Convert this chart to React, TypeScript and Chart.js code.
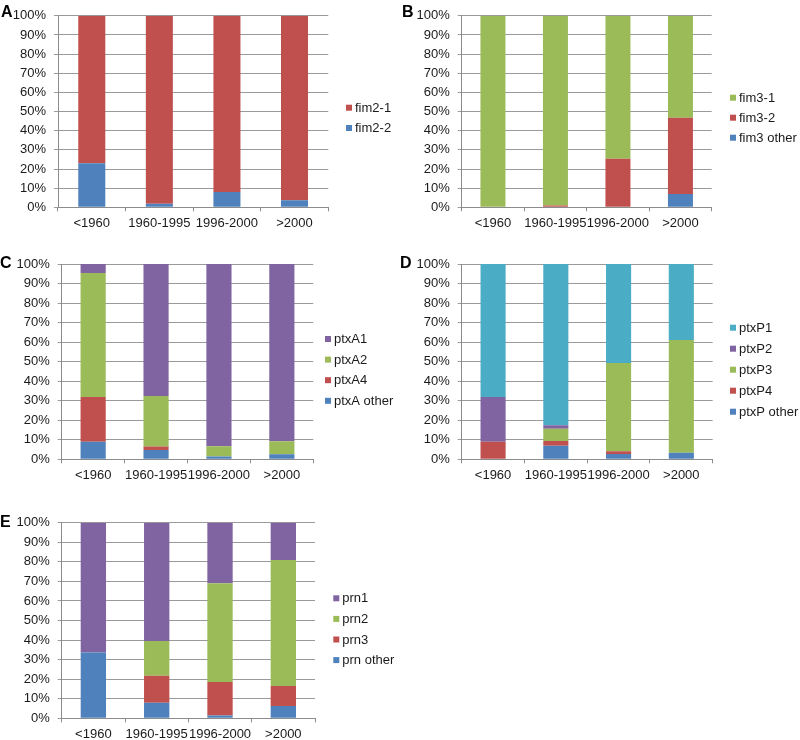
import React, { useEffect, useRef } from "react";
import { Chart, registerables } from "chart.js";

Chart.register(...registerables);

const categories = ["<1960", "1960-1995", "1996-2000", ">2000"];

// Panel A (bottom to top)
const fim2_2 = [23.0, 1.9, 8.0, 3.7];
const fim2_1 = [77.0, 98.1, 92.0, 96.3];

// Panel B
const fim3_other = [0, 0, 0, 7.0];
const fim3_2 = [0, 0.9, 25.4, 39.7];
const fim3_1 = [100, 99.1, 74.6, 53.3];

// Panel C
const ptxA_other = [9.0, 4.8, 1.4, 2.6];
const ptxA4 = [22.9, 1.7, 0, 0];
const ptxA2 = [63.5, 25.9, 5.3, 6.6];
const ptxA1 = [4.6, 67.6, 93.3, 90.8];

// Panel D
const ptxP_other = [0, 7.0, 2.7, 3.4];
const ptxP4 = [9.0, 2.4, 1.4, 0];
const ptxP3 = [0, 6.3, 45.2, 57.7];
const ptxP2 = [22.9, 1.7, 0, 0];
const ptxP1 = [68.1, 82.6, 50.7, 38.9];

// Panel E
const prn_other = [33.6, 8.0, 1.4, 6.3];
const prn3 = [0, 13.8, 17.2, 10.2];
const prn2 = [0, 17.7, 50.4, 64.4];
const prn1 = [66.4, 60.5, 31.0, 19.1];

const yTicks = [0, 10, 20, 30, 40, 50, 60, 70, 80, 90, 100];

const BLUE = "#4F81BD";
const RED = "#C0504D";
const GREEN = "#9BBB59";
const PURPLE = "#8064A2";
const AQUA = "#4BACC6";

const FONT = "'Liberation Sans', Arial, sans-serif";
const FS = 13;

type DS = { label: string; data: number[]; color: string };

type PanelCfg = {
  letter: string;
  left: number;
  top: number;
  w: number;
  h: number;
  area: { l: number; r: number; t: number; b: number };
  legend: { x: number; y: number; gap: number };
  letterPos: { x: number; y: number };
  series: DS[];
};

const panels: PanelCfg[] = [
  {
    letter: "A",
    left: 0, top: 0, w: 400, h: 240,
    area: { l: 58, r: 328.3, t: 11.7, b: 207.3 },
    legend: { x: 346, y: 107.7, gap: 20.3 },
    letterPos: { x: 1, y: 4 },
    series: [
      { label: "fim2-2", data: fim2_2, color: BLUE },
      { label: "fim2-1", data: fim2_1, color: RED },
    ],
  },
  {
    letter: "B",
    left: 400, top: 0, w: 400, h: 240,
    area: { l: 61.7, r: 311.7, t: 11.7, b: 207.3 },
    legend: { x: 330, y: 97.7, gap: 20 },
    letterPos: { x: 2, y: 4 },
    series: [
      { label: "fim3 other", data: fim3_other, color: BLUE },
      { label: "fim3-2", data: fim3_2, color: RED },
      { label: "fim3-1", data: fim3_1, color: GREEN },
    ],
  },
  {
    letter: "C",
    left: 0, top: 240, w: 400, h: 250,
    area: { l: 61.7, r: 313.3, t: 24, b: 219.3 },
    legend: { x: 325, y: 99, gap: 20.6 },
    letterPos: { x: 0, y: 15 },
    series: [
      { label: "ptxA other", data: ptxA_other, color: BLUE },
      { label: "ptxA4", data: ptxA4, color: RED },
      { label: "ptxA2", data: ptxA2, color: GREEN },
      { label: "ptxA1", data: ptxA1, color: PURPLE },
    ],
  },
  {
    letter: "D",
    left: 400, top: 240, w: 400, h: 250,
    area: { l: 61.7, r: 312.7, t: 24, b: 219.3 },
    legend: { x: 330, y: 87.7, gap: 21 },
    letterPos: { x: 0, y: 15 },
    series: [
      { label: "ptxP other", data: ptxP_other, color: BLUE },
      { label: "ptxP4", data: ptxP4, color: RED },
      { label: "ptxP3", data: ptxP3, color: GREEN },
      { label: "ptxP2", data: ptxP2, color: PURPLE },
      { label: "ptxP1", data: ptxP1, color: AQUA },
    ],
  },
  {
    letter: "E",
    left: 0, top: 490, w: 400, h: 250,
    area: { l: 61.7, r: 315, t: 32.7, b: 228.3 },
    legend: { x: 333.3, y: 108.3, gap: 20.6 },
    letterPos: { x: 0, y: 24 },
    series: [
      { label: "prn other", data: prn_other, color: BLUE },
      { label: "prn3", data: prn3, color: RED },
      { label: "prn2", data: prn2, color: GREEN },
      { label: "prn1", data: prn1, color: PURPLE },
    ],
  },
];

const legendPlugin = {
  id: "sideLegend",
  afterDraw(chart: any, _args: any, opts: any) {
    const ctx = chart.ctx;
    const ds = chart.data.datasets;
    ctx.save();
    ctx.font = `${FS}px ${FONT}`;
    ctx.textBaseline = "middle";
    ctx.textAlign = "left";
    for (let i = 0; i < ds.length; i++) {
      const d = ds[ds.length - 1 - i];
      const cy = opts.y + i * opts.gap;
      ctx.fillStyle = d.backgroundColor;
      ctx.fillRect(opts.x, cy - 3, 6, 6);
      ctx.fillStyle = "#1a1a1a";
      ctx.fillText(d.label, opts.x + 9, cy + 0.5);
    }
    ctx.restore();
  },
};

function Panel({ cfg }: { cfg: PanelCfg }) {
  const ref = useRef<HTMLCanvasElement | null>(null);
  useEffect(() => {
    if (!ref.current) return;
    const xH = 26;
    const chart = new Chart(ref.current, {
      type: "bar",
      data: {
        labels: categories,
        datasets: cfg.series.map((s) => ({
          label: s.label,
          data: s.data,
          backgroundColor: s.color,
          borderWidth: 0,
          barPercentage: 0.4,
          categoryPercentage: 1,
        })),
      },
      options: {
        responsive: false,
        animation: false,
        devicePixelRatio: 1,
        layout: {
          padding: {
            left: 0,
            top: cfg.area.t,
            right: cfg.w - cfg.area.r,
            bottom: cfg.h - cfg.area.b - xH,
          },
        },
        plugins: {
          legend: { display: false },
          tooltip: { enabled: false },
          sideLegend: cfg.legend,
        } as any,
        scales: {
          x: {
            stacked: true,
            offset: true,
            afterFit: (s: any) => {
              s.height = xH;
            },
            grid: {
              offset: true,
              drawOnChartArea: false,
              drawTicks: true,
              tickLength: 4,
              color: "#8c8c8c",
            },
            border: { display: true, color: "#8c8c8c" },
            ticks: {
              autoSkip: false,
              maxRotation: 0,
              minRotation: 0,
              padding: 4,
              color: "#1a1a1a",
              font: { family: FONT, size: FS },
            },
          },
          y: {
            stacked: true,
            min: 0,
            max: 100,
            afterFit: (s: any) => {
              s.width = cfg.area.l;
            },
            afterBuildTicks: (s: any) => {
              s.ticks = yTicks.map((v) => ({ value: v }));
            },
            grid: {
              drawTicks: true,
              tickLength: 4,
              color: "#9a9a9a",
            },
            border: { display: true, color: "#8c8c8c" },
            ticks: {
              padding: 8,
              color: "#1a1a1a",
              font: { family: FONT, size: FS },
              callback: (v: any) => `${v}%`,
            },
          },
        },
      },
      plugins: [legendPlugin],
    });
    return () => chart.destroy();
  }, [cfg]);

  return (
    <div
      style={{
        position: "absolute",
        left: cfg.left,
        top: cfg.top,
        width: cfg.w,
        height: cfg.h,
      }}
    >
      <canvas
        ref={ref}
        width={cfg.w}
        height={cfg.h}
        style={{ position: "absolute", left: 0, top: 0, width: cfg.w, height: cfg.h }}
      />
      <div
        style={{
          position: "absolute",
          left: cfg.letterPos.x,
          top: cfg.letterPos.y,
          fontFamily: FONT,
          fontWeight: "bold",
          fontSize: 16,
          lineHeight: "16px",
          color: "#000",
        }}
      >
        {cfg.letter}
      </div>
    </div>
  );
}

export default function App() {
  return (
    <div
      style={{
        position: "absolute",
        left: 0,
        top: 0,
        width: 800,
        height: 740,
        background: "#fff",
        overflow: "hidden",
      }}
    >
      {panels.map((p) => (
        <Panel key={p.letter} cfg={p} />
      ))}
    </div>
  );
}
